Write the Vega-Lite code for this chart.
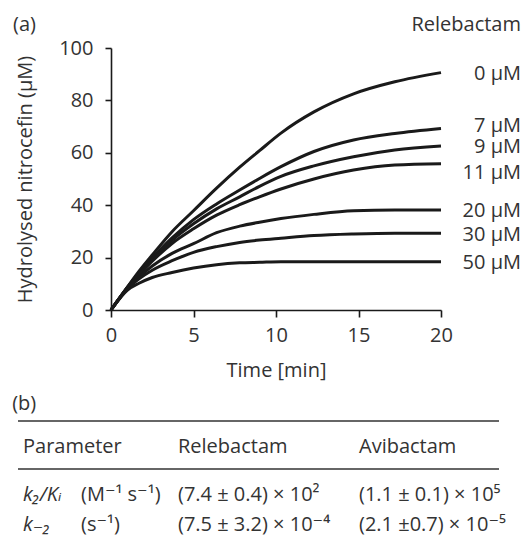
{
  "$schema": "https://vega.github.io/schema/vega-lite/v6.json",
  "padding": {"left": 12, "top": 15, "right": 6, "bottom": 4},
  "background": "white",
  "spacing": 14,
  "config": {
    "view": {"stroke": null},
    "font": "Open Sans, DejaVu Sans",
    "text": {"font": "Open Sans, DejaVu Sans", "fontSize": 20, "color": "#333333"},
    "axis": {
      "grid": false,
      "domainColor": "#1a1a1a",
      "domainWidth": 1.6,
      "tickColor": "#1a1a1a",
      "tickWidth": 1.6,
      "labelFont": "Open Sans, DejaVu Sans",
      "labelFontSize": 20,
      "labelColor": "#333333",
      "titleFont": "Open Sans, DejaVu Sans",
      "titleFontSize": 20,
      "titleFontWeight": "normal",
      "titleColor": "#333333",
      "labelFlush": false,
      "labelOverlap": false
    },
    "title": {"font": "Open Sans, DejaVu Sans", "fontSize": 20, "fontWeight": "normal", "color": "#333333"}
  },
  "datasets": {
    "curves": [
      {"c": "0 μM", "t": 0, "v": 0}, {"c": "0 μM", "t": 1, "v": 8.8}, {"c": "0 μM", "t": 1.7, "v": 14.8}, {"c": "0 μM", "t": 2.5, "v": 21.0}, {"c": "0 μM", "t": 3.7, "v": 29.9}, {"c": "0 μM", "t": 5, "v": 37.9}, {"c": "0 μM", "t": 6.4, "v": 46.5}, {"c": "0 μM", "t": 7.8, "v": 54.5}, {"c": "0 μM", "t": 9, "v": 60.8}, {"c": "0 μM", "t": 10.3, "v": 67.5}, {"c": "0 μM", "t": 12.3, "v": 75.6}, {"c": "0 μM", "t": 14.7, "v": 82.5}, {"c": "0 μM", "t": 17.2, "v": 87.1}, {"c": "0 μM", "t": 20, "v": 90.6},
      {"c": "7 μM", "t": 0, "v": 0}, {"c": "7 μM", "t": 1, "v": 8.7}, {"c": "7 μM", "t": 1.7, "v": 14.2}, {"c": "7 μM", "t": 2.5, "v": 19.8}, {"c": "7 μM", "t": 3.7, "v": 27.5}, {"c": "7 μM", "t": 5, "v": 34.5}, {"c": "7 μM", "t": 6.4, "v": 40.5}, {"c": "7 μM", "t": 7.8, "v": 45.8}, {"c": "7 μM", "t": 9, "v": 50.2}, {"c": "7 μM", "t": 10.3, "v": 54.7}, {"c": "7 μM", "t": 12.3, "v": 60.5}, {"c": "7 μM", "t": 14.7, "v": 64.9}, {"c": "7 μM", "t": 17.2, "v": 67.4}, {"c": "7 μM", "t": 20, "v": 69.3},
      {"c": "9 μM", "t": 0, "v": 0}, {"c": "9 μM", "t": 1, "v": 8.6}, {"c": "9 μM", "t": 1.7, "v": 13.8}, {"c": "9 μM", "t": 2.5, "v": 19.3}, {"c": "9 μM", "t": 3.7, "v": 26.6}, {"c": "9 μM", "t": 5, "v": 32.9}, {"c": "9 μM", "t": 6.4, "v": 38.6}, {"c": "9 μM", "t": 7.8, "v": 43.2}, {"c": "9 μM", "t": 9, "v": 47.2}, {"c": "9 μM", "t": 10.3, "v": 51.0}, {"c": "9 μM", "t": 12.3, "v": 55.0}, {"c": "9 μM", "t": 14.7, "v": 58.5}, {"c": "9 μM", "t": 17.2, "v": 61.1}, {"c": "9 μM", "t": 20, "v": 62.6},
      {"c": "11 μM", "t": 0, "v": 0}, {"c": "11 μM", "t": 1, "v": 8.5}, {"c": "11 μM", "t": 1.7, "v": 13.4}, {"c": "11 μM", "t": 2.5, "v": 18.6}, {"c": "11 μM", "t": 3.7, "v": 25.4}, {"c": "11 μM", "t": 5, "v": 31.0}, {"c": "11 μM", "t": 6.4, "v": 36.2}, {"c": "11 μM", "t": 7.8, "v": 40.2}, {"c": "11 μM", "t": 9, "v": 43.2}, {"c": "11 μM", "t": 10.3, "v": 46.2}, {"c": "11 μM", "t": 12.3, "v": 50.0}, {"c": "11 μM", "t": 14.7, "v": 53.4}, {"c": "11 μM", "t": 17.2, "v": 55.3}, {"c": "11 μM", "t": 20, "v": 55.8},
      {"c": "20 μM", "t": 0, "v": 0}, {"c": "20 μM", "t": 1, "v": 8.3}, {"c": "20 μM", "t": 1.7, "v": 12.6}, {"c": "20 μM", "t": 2.5, "v": 16.8}, {"c": "20 μM", "t": 3.7, "v": 21.6}, {"c": "20 μM", "t": 5, "v": 25.3}, {"c": "20 μM", "t": 6.4, "v": 29.5}, {"c": "20 μM", "t": 7.8, "v": 32.0}, {"c": "20 μM", "t": 9, "v": 33.5}, {"c": "20 μM", "t": 10.3, "v": 34.9}, {"c": "20 μM", "t": 12.3, "v": 36.5}, {"c": "20 μM", "t": 14.7, "v": 37.9}, {"c": "20 μM", "t": 17.2, "v": 38.2}, {"c": "20 μM", "t": 20, "v": 38.2},
      {"c": "30 μM", "t": 0, "v": 0}, {"c": "30 μM", "t": 1, "v": 8.1}, {"c": "30 μM", "t": 1.7, "v": 11.9}, {"c": "30 μM", "t": 2.5, "v": 15.2}, {"c": "30 μM", "t": 3.7, "v": 18.8}, {"c": "30 μM", "t": 5, "v": 22.0}, {"c": "30 μM", "t": 6.4, "v": 24.2}, {"c": "30 μM", "t": 7.8, "v": 25.8}, {"c": "30 μM", "t": 9, "v": 26.7}, {"c": "30 μM", "t": 10.3, "v": 27.4}, {"c": "30 μM", "t": 12.3, "v": 28.4}, {"c": "30 μM", "t": 14.7, "v": 29.0}, {"c": "30 μM", "t": 17.2, "v": 29.3}, {"c": "30 μM", "t": 20, "v": 29.3},
      {"c": "50 μM", "t": 0, "v": 0}, {"c": "50 μM", "t": 1, "v": 7.6}, {"c": "50 μM", "t": 1.7, "v": 10.2}, {"c": "50 μM", "t": 2.5, "v": 12.4}, {"c": "50 μM", "t": 3.7, "v": 14.3}, {"c": "50 μM", "t": 5, "v": 16.0}, {"c": "50 μM", "t": 6.4, "v": 17.3}, {"c": "50 μM", "t": 7.8, "v": 18.0}, {"c": "50 μM", "t": 9, "v": 18.2}, {"c": "50 μM", "t": 10.3, "v": 18.4}, {"c": "50 μM", "t": 12.3, "v": 18.4}, {"c": "50 μM", "t": 14.7, "v": 18.4}, {"c": "50 μM", "t": 17.2, "v": 18.4}, {"c": "50 μM", "t": 20, "v": 18.4}
    ],
    "table": [
      {"kind": "rule", "row": 0, "from": 0, "to": 5},
      {"kind": "rule", "row": 2, "from": 0, "to": 5},
      {"kind": "text", "row": 1, "col": 1, "label": "Parameter"},
      {"kind": "text", "row": 1, "col": 3, "label": "Relebactam"},
      {"kind": "text", "row": 1, "col": 4, "label": "Avibactam"},
      {"kind": "param", "row": 3, "col": 1, "label": "k₂/Kᵢ"},
      {"kind": "text", "row": 3, "col": 2, "label": "(M⁻¹ s⁻¹)"},
      {"kind": "text", "row": 3, "col": 3, "label": "(7.4 ± 0.4) × 10²"},
      {"kind": "text", "row": 3, "col": 4, "label": "(1.1 ± 0.1) × 10⁵"},
      {"kind": "param", "row": 4, "col": 1, "label": "k₋₂"},
      {"kind": "text", "row": 4, "col": 2, "label": "(s⁻¹)"},
      {"kind": "text", "row": 4, "col": 3, "label": "(7.5 ± 3.2) × 10⁻⁴"},
      {"kind": "text", "row": 4, "col": 4, "label": "(2.1 ±0.7) × 10⁻⁵"}
    ]
  },
  "vconcat": [
    {
      "width": 330,
      "height": 262,
      "data": {"name": "curves"},
      "layer": [
        {
          "mark": {"type": "line", "interpolate": "monotone", "strokeWidth": 3, "color": "#1a1a1a"},
          "encoding": {
            "x": {
              "field": "t", "type": "quantitative",
              "scale": {"domain": [0, 20], "nice": false},
              "axis": {"title": "Time [min]", "values": [0, 5, 10, 15, 20], "tickSize": 7, "labelPadding": 8, "titlePadding": 15}
            },
            "y": {
              "field": "v", "type": "quantitative",
              "scale": {"domain": [0, 100], "nice": false},
              "axis": {
                "title": "Hydrolysed nitrocefin (μM)",
                "values": [0, 10, 20, 30, 40, 50, 60, 70, 80, 90, 100],
                "labelExpr": "datum.value % 20 === 0 ? datum.label : ''",
                "tickSize": 6, "labelPadding": 12, "titlePadding": 23
              }
            },
            "detail": {"field": "c"}
          }
        },
        {
          "transform": [{"filter": "datum.t === 20 && datum.c !== '7 μM' && datum.c !== '11 μM'"}],
          "mark": {"type": "text", "align": "right", "baseline": "middle", "dx": 80, "dy": 1.5},
          "encoding": {
            "x": {"field": "t", "type": "quantitative"},
            "y": {"field": "v", "type": "quantitative"},
            "text": {"field": "c"}
          }
        },
        {
          "transform": [{"filter": "datum.t === 20 && datum.c === '7 μM'"}],
          "mark": {"type": "text", "align": "right", "baseline": "middle", "dx": 80, "dy": -2},
          "encoding": {
            "x": {"field": "t", "type": "quantitative"},
            "y": {"field": "v", "type": "quantitative"},
            "text": {"field": "c"}
          }
        },
        {
          "transform": [{"filter": "datum.t === 20 && datum.c === '11 μM'"}],
          "mark": {"type": "text", "align": "right", "baseline": "middle", "dx": 80, "dy": 9},
          "encoding": {
            "x": {"field": "t", "type": "quantitative"},
            "y": {"field": "v", "type": "quantitative"},
            "text": {"field": "c"}
          }
        },
        {
          "data": {"values": [{}]},
          "mark": {"type": "text", "align": "right", "baseline": "middle", "dx": 80, "dy": -23, "text": "Relebactam"},
          "encoding": {"x": {"datum": 20, "type": "quantitative"}, "y": {"datum": 100, "type": "quantitative"}}
        },
        {
          "data": {"values": [{}]},
          "mark": {"type": "text", "align": "left", "baseline": "middle", "dx": -98, "dy": -23, "text": "(a)"},
          "encoding": {"x": {"datum": 0, "type": "quantitative"}, "y": {"datum": 100, "type": "quantitative"}}
        }
      ]
    },
    {
      "width": 330,
      "height": 104,
      "title": {"text": "(b)", "anchor": "start", "frame": "bounds", "dx": -5, "offset": 6},
      "data": {"name": "table"},
      "layer": [
        {
          "transform": [{"filter": "datum.kind === 'rule'"}],
          "mark": {"type": "rule", "strokeWidth": 1.6, "color": "#333333"},
          "encoding": {
            "x": {"field": "from", "type": "quantitative", "scale": {"domain": [0, 1, 2, 3, 4, 5], "range": [-93, -88, -30, 67, 248, 388], "zero": false, "nice": false}, "axis": null},
            "x2": {"field": "to"},
            "y": {"field": "row", "type": "quantitative", "scale": {"domain": [0, 1, 2, 3, 4], "range": [0, 26, 48, 74, 104], "zero": false, "nice": false}, "axis": null}
          }
        },
        {
          "transform": [{"filter": "datum.kind === 'text'"}],
          "mark": {"type": "text", "align": "left", "baseline": "middle"},
          "encoding": {
            "x": {"field": "col", "type": "quantitative", "axis": null},
            "y": {"field": "row", "type": "quantitative", "axis": null},
            "text": {"field": "label"}
          }
        },
        {
          "transform": [{"filter": "datum.kind === 'param'"}],
          "mark": {"type": "text", "align": "left", "baseline": "middle", "fontStyle": "italic"},
          "encoding": {
            "x": {"field": "col", "type": "quantitative", "axis": null},
            "y": {"field": "row", "type": "quantitative", "axis": null},
            "text": {"field": "label"}
          }
        }
      ]
    }
  ]
}
